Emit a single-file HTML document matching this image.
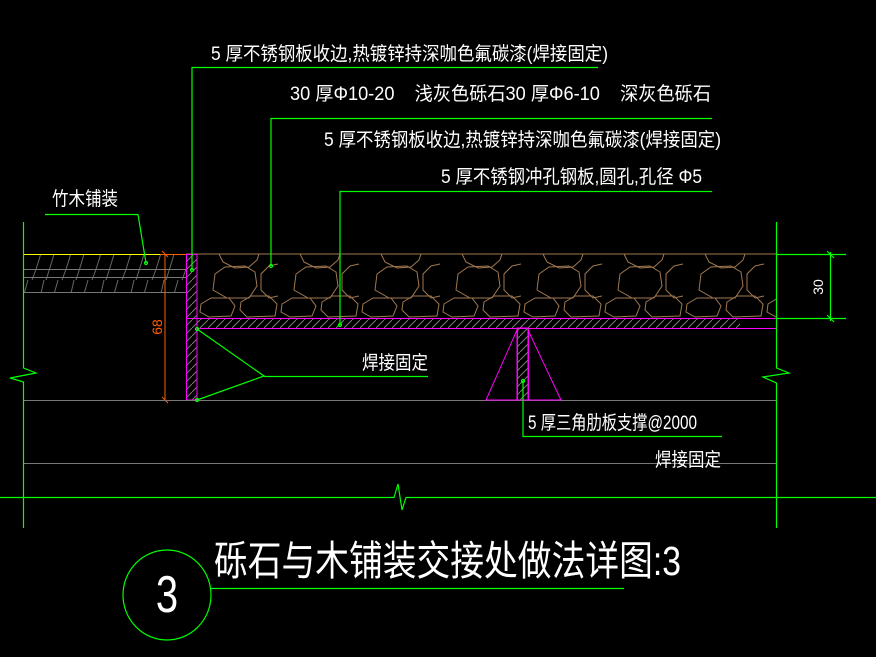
<!DOCTYPE html>
<html><head><meta charset="utf-8"><style>
html,body{margin:0;padding:0;background:#000;}
svg{display:block}
text{font-family:"Liberation Sans","Noto Sans CJK SC",sans-serif;fill:#fff;}
</style></head><body>
<svg width="876" height="657" viewBox="0 0 876 657" xmlns="http://www.w3.org/2000/svg">
<defs>
<pattern id="stone" x="197" y="254" width="81" height="64" patternUnits="userSpaceOnUse">
<g fill="none" stroke="#a07850" stroke-width="1">
<polyline points="22,0 26,8 38,14 52,13 60,6 62,0"/>
<polygon points="18,20 28,13 48,12 58,18 60,32 52,44 30,44 16,36"/>
<polyline points="81,10 72,12 64,20 64,36 72,44 81,42"/>
<polyline points="0,10 -9,12"/>
<polygon points="4,50 14,44 32,44 38,52 34,62 12,63 3,58"/>
<polygon points="44,48 54,42 72,42 80,50 78,62 50,63 43,56"/>
</g>
</pattern>
<pattern id="hatch" width="8" height="8" patternUnits="userSpaceOnUse">
<line x1="0" y1="8" x2="8" y2="0" stroke="#777" stroke-width="1"/>
</pattern>
<pattern id="wood" width="30" height="40" patternUnits="userSpaceOnUse">
<g fill="none" stroke="#666" stroke-width="1">
<path d="M2,40 Q10,20 14,0"/><path d="M16,40 Q22,22 28,0"/>
</g>
</pattern>
</defs>

<!-- stones -->
<rect x="197" y="254" width="579" height="64" fill="url(#stone)"/>
<line x1="186" y1="254" x2="776" y2="254" stroke="#a07850"/>
<!-- perforated plate -->
<rect x="197" y="318" width="543" height="10" fill="url(#hatch)"/>
<line x1="186" y1="318.5" x2="776" y2="318.5" stroke="#ff00ff"/>
<line x1="197" y1="328.5" x2="776" y2="328.5" stroke="#ff00ff"/>
<!-- wood -->
<rect x="23" y="254" width="163" height="38" fill="url(#wood)"/>
<line x1="23" y1="269.5" x2="186" y2="269.5" stroke="#777"/>
<line x1="23" y1="277.5" x2="186" y2="277.5" stroke="#777"/>
<line x1="23" y1="292.5" x2="186" y2="292.5" stroke="#777"/>
<line x1="23" y1="254.5" x2="165" y2="254.5" stroke="#ffff00"/>
<!-- edge plate -->
<rect x="186" y="254" width="11" height="146" fill="url(#hatch)"/>
<rect x="186.5" y="254.5" width="10.5" height="145.5" fill="none" stroke="#ff00ff"/>
<!-- orange dim -->
<g stroke="#ff6000" fill="none">
<line x1="165" y1="254" x2="165" y2="400"/>
<line x1="160" y1="254.5" x2="186" y2="254.5"/>
<line x1="160" y1="400.5" x2="186" y2="400.5"/>
<line x1="162" y1="251" x2="168" y2="257"/>
<line x1="162" y1="397" x2="168" y2="403"/>
</g>
<text x="0" y="0" transform="translate(162,327) rotate(-90)" font-size="14" style="fill:#ff6000" text-anchor="middle">68</text>
<!-- ground lines -->
<line x1="23" y1="400.5" x2="776" y2="400.5" stroke="#777"/>
<line x1="23" y1="463.5" x2="776" y2="463.5" stroke="#777"/>
<!-- rib -->
<g stroke="#ff00ff" fill="none">
<rect x="517" y="328" width="11" height="72" fill="url(#hatch)"/>
<line x1="517.5" y1="328" x2="517.5" y2="400"/>
<line x1="528.5" y1="328" x2="528.5" y2="400"/>
<line x1="486" y1="400" x2="517" y2="330"/>
<line x1="528" y1="330" x2="561" y2="400"/>
<line x1="486" y1="400" x2="561" y2="400"/>
</g>
<!-- green frame -->
<g stroke="#00ff00" fill="none" stroke-width="1.2">
<polyline points="23.5,222 23.5,368 36,373 10,378 23.5,382 23.5,528"/>
<polyline points="776.5,222 776.5,368 789,373 763,377 776.5,383 776.5,528"/>
<polyline points="0,497.5 394,497.5 398,484 402,510 406,497.5 876,497.5"/>
<line x1="776" y1="254.5" x2="846" y2="254.5"/>
<line x1="776" y1="318.5" x2="846" y2="318.5"/>
<line x1="830.5" y1="252" x2="830.5" y2="321"/>
<line x1="827" y1="251" x2="834" y2="258"/>
<line x1="827" y1="315" x2="834" y2="322"/>
<!-- leaders -->
<polyline points="192,270 192,67.5 598,67.5"/>
<polyline points="271,266 271,118.5 712,118.5"/>
<polyline points="340,325 340,191.5 712,191.5"/>
<polyline points="45,214.5 138,214.5 146,263"/>
<polyline points="197,329 264,376 197,400"/>
<line x1="264" y1="376.5" x2="428" y2="376.5"/>
<polyline points="523,381 523,436.5 722,436.5"/>
<ellipse cx="167" cy="595" rx="44" ry="45"/>
<line x1="211" y1="588.5" x2="624" y2="588.5"/>
<circle cx="192" cy="270" r="1.5"/><circle cx="271" cy="266" r="1.5"/>
<circle cx="340" cy="325" r="1.5"/><circle cx="146" cy="263" r="1.5"/>
<circle cx="197" cy="329" r="1.5"/><circle cx="197" cy="400" r="1.5"/>
<circle cx="523" cy="381" r="1.5"/>
</g>
<text x="0" y="0" transform="translate(823,287) rotate(-90)" font-size="14" text-anchor="middle">30</text>

<!-- labels -->
<text x="211" y="60" font-size="19" textLength="397" lengthAdjust="spacingAndGlyphs">5 厚不锈钢板收边,热镀锌持深咖色氟碳漆(焊接固定)</text>
<text x="290" y="100" font-size="19" textLength="421" lengthAdjust="spacingAndGlyphs" xml:space="preserve">30 厚Φ10-20    浅灰色砾石30 厚Φ6-10    深灰色砾石</text>
<text x="324" y="146" font-size="19" textLength="397" lengthAdjust="spacingAndGlyphs">5 厚不锈钢板收边,热镀锌持深咖色氟碳漆(焊接固定)</text>
<text x="441" y="183" font-size="19" textLength="261" lengthAdjust="spacingAndGlyphs">5 厚不锈钢冲孔钢板,圆孔,孔径 Φ5</text>
<text x="52" y="205" font-size="19" textLength="66" lengthAdjust="spacingAndGlyphs">竹木铺装</text>
<text x="362" y="369" font-size="19" textLength="66" lengthAdjust="spacingAndGlyphs">焊接固定</text>
<text x="528" y="429" font-size="19" textLength="169" lengthAdjust="spacingAndGlyphs">5 厚三角肋板支撑@2000</text>
<text x="655" y="466" font-size="19" textLength="66" lengthAdjust="spacingAndGlyphs">焊接固定</text>
<text x="0" y="0" transform="translate(214,575) scale(1,1.2)" font-size="34" textLength="467" lengthAdjust="spacingAndGlyphs">砾石与木铺装交接处做法详图:3</text>
<text x="0" y="0" transform="translate(167,612) scale(1,1.3)" font-size="40" text-anchor="middle">3</text>
</svg>
</body></html>
